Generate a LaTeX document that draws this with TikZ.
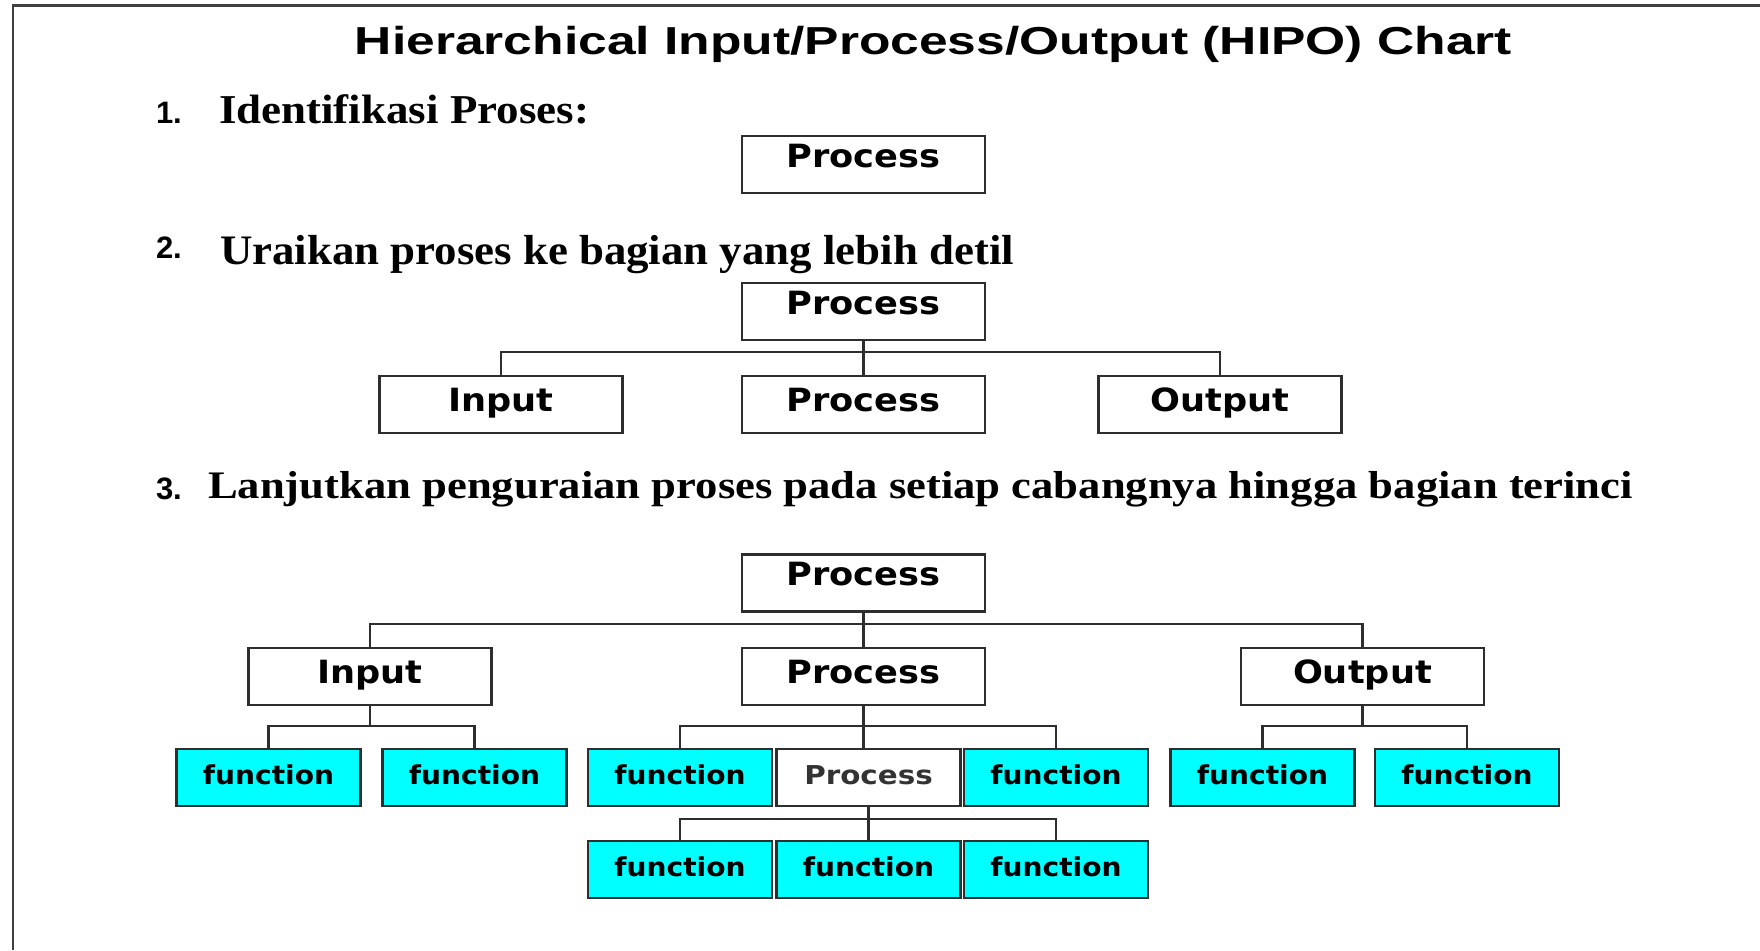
\documentclass[tikz,border=0pt]{standalone}
\usepackage{fontspec}
\usepackage{graphicx}
\setmainfont{Liberation Serif}
\newfontfamily\arialf{Liberation Sans}
\newfontfamily\boxf{DejaVu Sans}
\definecolor{edge}{HTML}{2E2E2E}
\definecolor{fncyan}{HTML}{00FFFF}
% stretch a text to a given width (in pt) keeping its height
\newcommand{\fitto}[2]{\resizebox{#1pt}{\height}{#2}}
\newcommand{\sz}[1]{\fontsize{#1pt}{#1pt}\selectfont}
\newcommand{\bx}[1]{\scalebox{1.1}[1]{#1}}
\newcommand{\fx}[1]{\scalebox{1.08}[1]{#1}}
\tikzset{
  every node/.style={inner sep=0pt, outer sep=0pt},
  frame/.style={draw=black!75, line width=2.6pt},
  link/.style={draw=edge, line width=2.6pt},
  topbox/.style={draw=edge, line width=2.6pt, fill=white,
    minimum width=243pt, minimum height=57pt,
    text height=23.3pt, text depth=18.3pt, font=\boxf\bfseries\sz{32}},
  midbox/.style={topbox, text depth=9.3pt},
  fnbox/.style={draw=edge, line width=2.6pt, fill=fncyan,
    minimum width=184pt, minimum height=57pt,
    text height=19.8pt, text depth=5.8pt, font=\boxf\bfseries\sz{26}},
  subbox/.style={fnbox, fill=white, text height=19pt, text depth=5pt, text=black!80},
  numtext/.style={anchor=base west, font=\arialf\bfseries\sz{31}},
}
\begin{document}
\begin{tikzpicture}[x=1pt,y=-1pt]
\useasboundingbox (0,0) rectangle (1760,950);

% page frame
\draw[frame] (13,950) -- (13,5.5) -- (1760,5.5);

% heading
\node[anchor=base, font=\arialf\bfseries\sz{39}] (title) at (933.5,55)
  {\fitto{1157}{Hierarchical Input/Process/Output (HIPO) Chart}};

% step 1
\node[numtext] (n1) at (156,123) {1.};
\node[anchor=base west, font=\bfseries\sz{41}] (s1) at (219,123) {\fitto{370}{Identifikasi Proses:}};
\node[topbox] (p1) at (863.5,164.5) {\bx{Process}};

% step 2
\node[numtext] (n2) at (156,258) {2.};
\node[anchor=base west, font=\bfseries\sz{42}] (s2) at (220,264) {\fitto{794}{Uraikan proses ke bagian yang lebih detil}};
\node[topbox] (p2) at (863.5,311.5) {\bx{Process}};
\node[midbox] (in2) at (501,404.5) {\bx{Input}};
\node[midbox] (pr2) at (863.5,404.5) {\bx{Process}};
\node[midbox] (out2) at (1220,404.5) {\bx{Output}};
\coordinate (bar2) at (0,352);
\draw[link] (p2.south) -- (pr2.north);
\draw[link] (in2.north) -- (in2.north |- bar2) -- (out2.north |- bar2) -- (out2.north);

% step 3
\node[numtext] (n3) at (156,499) {3.};
\node[anchor=base west, font=\bfseries\sz{39}] (s3) at (208,498)
  {\fitto{1425}{Lanjutkan penguraian proses pada setiap cabangnya hingga bagian terinci}};
\node[topbox] (p3) at (863.5,583) {\bx{Process}};
\node[midbox] (in3) at (370,676.5) {\bx{Input}};
\node[midbox] (pr3) at (863.5,676.5) {\bx{Process}};
\node[midbox] (out3) at (1362.5,676.5) {\bx{Output}};
\coordinate (bar3) at (0,624);
\draw[link] (p3.south) -- (pr3.north);
\draw[link] (in3.north) -- (in3.north |- bar3) -- (out3.north |- bar3) -- (out3.north);

\node[fnbox] (f1) at (268.5,777.5) {\fx{function}};
\node[fnbox] (f2) at (474.5,777.5) {\fx{function}};
\node[fnbox] (f3) at (680,777.5) {\fx{function}};
\node[subbox] (pw) at (868.5,777.5) {\scalebox{1.13}[1]{Process}};
\node[fnbox] (f4) at (1056,777.5) {\fx{function}};
\node[fnbox] (f5) at (1262.5,777.5) {\fx{function}};
\node[fnbox] (f6) at (1467,777.5) {\fx{function}};
\coordinate (bar4) at (0,726);
\draw[link] (in3.south) -- (in3.south |- bar4);
\draw[link] (f1.north) -- (f1.north |- bar4) -- (f2.north |- bar4) -- (f2.north);
\draw[link] (pr3.south) -- (pr3.south |- pw.north);
\draw[link] (f3.north) -- (f3.north |- bar4) -- (f4.north |- bar4) -- (f4.north);
\draw[link] (out3.south) -- (out3.south |- bar4);
\draw[link] (f5.north) -- (f5.north |- bar4) -- (f6.north |- bar4) -- (f6.north);

\node[fnbox] (f7) at (680,869.5) {\fx{function}};
\node[fnbox] (f8) at (868.5,869.5) {\fx{function}};
\node[fnbox] (f9) at (1056,869.5) {\fx{function}};
\coordinate (bar5) at (0,819);
\draw[link] (pw.south) -- (f8.north);
\draw[link] (f7.north) -- (f7.north |- bar5) -- (f9.north |- bar5) -- (f9.north);
\end{tikzpicture}
\end{document}
